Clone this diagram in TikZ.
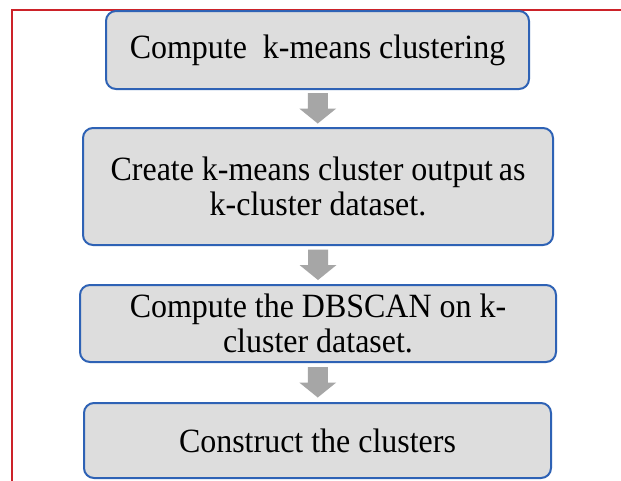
\documentclass[tikz,border=0pt]{standalone}
\usepackage{fontspec}
\setmainfont[FakeStretch=0.94]{Liberation Serif}
\usetikzlibrary{calc}
\definecolor{boxfill}{HTML}{DDDDDD}
\definecolor{boxline}{HTML}{2E62B5}
\definecolor{arrowfill}{HTML}{A6A6A6}
\definecolor{framered}{HTML}{CC2229}
\begin{document}
\begin{tikzpicture}[x=1pt,y=1pt,
  stepbox/.style={draw=boxline, fill=boxfill, line width=2pt, rounded corners=10pt,
    align=center, inner sep=0pt, font=\fontsize{34}{35}\selectfont},
  blockarr/.style={fill=arrowfill}]
\useasboundingbox (0,0) rectangle (621,-480);
\clip (0,0) rectangle (621,-480);
\fill[white] (0,0) rectangle (621,-480);
\draw[framered, line width=2pt] (12,-500) -- (12,-10) -- (640,-10);
\node[stepbox, minimum width=423pt, minimum height=78pt] (b1) at (317.5,-50) {Compute~ k-means clustering};
\node[stepbox, minimum width=470pt, minimum height=117pt] (b2) at (318,-186.5) {Create k-means cluster output\,as\\k-cluster dataset.};
\node[stepbox, minimum width=476pt, minimum height=77pt] (b3) at (318,-323.5) {Compute the DBSCAN on k-\\cluster dataset.};
\node[stepbox, minimum width=467pt, minimum height=75pt] (b4) at (317.5,-440.5) {Construct the clusters};
\foreach \a/\b/\n in {b1/b2/m1, b2/b3/m2, b3/b4/m3}{
  \path ($(\a.south)!0.5!(\b.north)$) coordinate (\n);
  \fill[blockarr] (\n) ++(-10,15.5) -- ++(20,0) -- ++(0,-15.5) -- ++(8.5,0)
     -- ++(-18.5,-15) -- ++(-18.5,15) -- ++(8.5,0) -- cycle;
}
\end{tikzpicture}
\end{document}
